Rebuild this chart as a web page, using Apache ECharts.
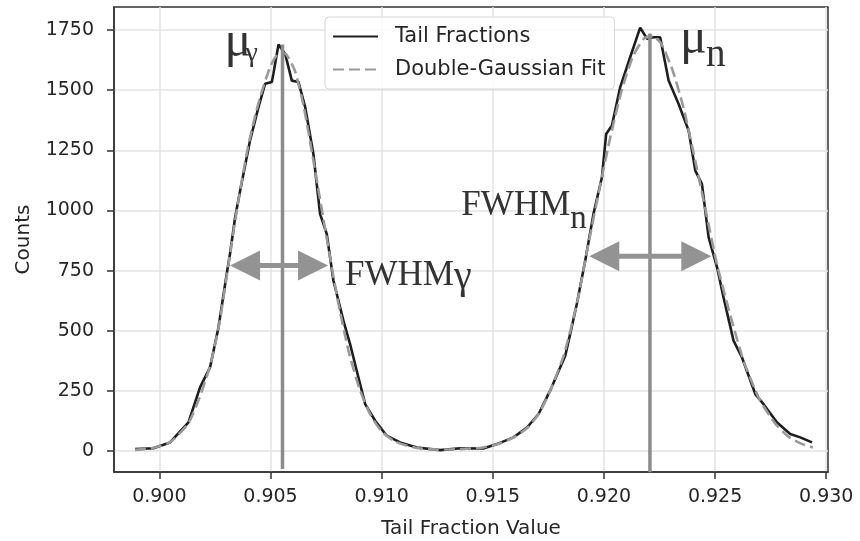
<!DOCTYPE html>
<html>
<head>
<meta charset="utf-8">
<script src="https://cdn.jsdelivr.net/npm/echarts@6/dist/echarts.min.js"></script>
<style>
  html, body { margin: 0; padding: 0; background: #fff; }
  #chart { width: 860px; height: 541px; }
</style>
</head>
<body>
<div id="chart"></div>
<script>
// Histogram of tail-fraction values (bin position, counts)
const tailX = [
  0.89891, 0.89973, 0.90048, 0.90131, 0.90183, 0.90228, 0.90266, 0.90303, 0.90318, 0.90341,
  0.90363, 0.90408, 0.90446, 0.90476, 0.90506, 0.90513, 0.90536, 0.90566, 0.90596, 0.90626,
  0.90656, 0.90693, 0.90723, 0.90753, 0.90783, 0.90828, 0.90858, 0.90888, 0.90926, 0.90971,
  0.91023, 0.91083, 0.91158, 0.91263, 0.91353, 0.91458, 0.91518, 0.91593, 0.91654, 0.91706,
  0.91758, 0.91826, 0.91848, 0.91878, 0.91916, 0.91953, 0.91991, 0.92010, 0.92036, 0.92073,
  0.92118, 0.92163, 0.92194, 0.92223, 0.92253, 0.92291, 0.92336, 0.92381, 0.92411, 0.92441,
  0.92471, 0.92509, 0.92538, 0.92583, 0.92621, 0.92681, 0.92718, 0.92779, 0.92838, 0.92883,
  0.92936
];
const tailCounts = [
  8, 12, 36, 119, 265, 348, 514, 736, 820, 972,
  1080, 1291, 1430, 1527, 1534, 1568, 1690, 1651, 1540, 1534,
  1430, 1235, 986, 903, 709, 542, 445, 334, 195, 126,
  64, 36, 15, 4, 12, 11, 29, 57, 98, 154,
  251, 396, 486, 611, 792, 986, 1138, 1318, 1353, 1512,
  1637, 1760, 1714, 1720, 1720, 1540, 1443, 1332, 1166, 1110,
  888, 764, 639, 459, 389, 237, 195, 119, 71, 57,
  36
];

// Double-Gaussian fit curve
const fitX = [
  0.8989, 0.8997, 0.9005, 0.9013, 0.9018, 0.9023, 0.9027, 0.9031, 0.9035, 0.9040,
  0.9045, 0.9050, 0.9054, 0.9057, 0.9061, 0.9065, 0.9070, 0.9075, 0.9080, 0.9085,
  0.9090, 0.9095, 0.9100, 0.9106, 0.9115, 0.9125, 0.9135, 0.9145, 0.9152, 0.9160,
  0.9166, 0.9171, 0.9176, 0.9182, 0.9188, 0.9193, 0.9198, 0.9203, 0.9208, 0.9213,
  0.9218, 0.9222, 0.9226, 0.9231, 0.9236, 0.9241, 0.9246, 0.9251, 0.9257, 0.9263,
  0.9270, 0.9277, 0.9283, 0.9289, 0.9294
];
const fitCounts = [
  5, 13, 38, 115, 220, 360, 530, 770, 1010, 1270,
  1460, 1600, 1655, 1650, 1580, 1430, 1170, 900, 640, 420,
  260, 150, 82, 40, 14, 6, 8, 14, 28, 60,
  100, 160, 255, 400, 620, 860, 1090, 1310, 1500, 1640,
  1715, 1725, 1690, 1580, 1420, 1210, 990, 770, 560, 370,
  215, 115, 60, 30, 15
];

// Peak means (vertical markers) and FWHM extents
const muValues = [0.90554, 0.92207];
const muLineBottom = [-75, -88];
const muLineTop = [1690, 1736];
const muSubscripts = ['γ', 'n'];
const fwhmStart = [0.90318, 0.91934];
const fwhmEnd = [0.90759, 0.92483];
const fwhmLevel = [771, 810];
const fwhmSubscripts = ['γ', 'n'];

// Axis ticks
const xTicks = [0.900, 0.905, 0.910, 0.915, 0.920, 0.925, 0.930];
const yTicks = [0, 250, 500, 750, 1000, 1250, 1500, 1750];

const serif = '"Liberation Serif", "Times New Roman", serif';
const sans = '"DejaVu Sans", sans-serif';
const annotGray = '#939393';
const labelInk = '#333';

const tailData = tailX.map((x, i) => [x, tailCounts[i]]);
const fitData = fitX.map((x, i) => [x, fitCounts[i]]);
const muData = muValues.map((m, i) => [m, muLineBottom[i], muLineTop[i]]);
const fwhmData = fwhmStart.map((s, i) => [s, fwhmEnd[i], fwhmLevel[i]]);

// label placement around each marker, in pixels relative to its anchor
const muLayout = [
  { muDx: -58, muDy: -2, subDx: -37, subDy: 9, subSize: 28 },
  { muDx: 30, muDy: 6, subDx: 56, subDy: 22, subSize: 39 }
];

const chart = echarts.init(document.getElementById('chart'), null, { renderer: 'canvas' });

chart.setOption({
  animation: false,
  backgroundColor: '#fff',
  grid: {
    left: 114, right: 32, top: 7, bottom: 69,
    outerBoundsMode: 'none',
    show: true, borderColor: '#333', borderWidth: 1.5, backgroundColor: '#fff'
  },
  legend: {
    data: ['Tail Fractions', 'Double-Gaussian Fit'],
    orient: 'vertical',
    left: 325, top: 17,
    padding: [9, 9, 9, 7],
    itemGap: 12,
    itemWidth: 45, itemHeight: 14,
    itemStyle: { opacity: 0 },
    backgroundColor: 'rgba(255,255,255,0.85)',
    borderColor: '#d6d6d6', borderWidth: 1, borderRadius: 4,
    textStyle: { fontFamily: sans, fontSize: 21, color: '#262626', padding: [0, 0, 0, 12] }
  },
  xAxis: {
    type: 'value',
    min: 0.89796, max: 0.93008,
    name: 'Tail Fraction Value',
    nameLocation: 'middle', nameGap: 47,
    nameTextStyle: { fontFamily: sans, fontSize: 20, color: '#262626' },
    axisLine: { show: true, onZero: false, lineStyle: { color: '#333', width: 1.5 } },
    axisTick: { show: true, length: 7, customValues: xTicks, lineStyle: { color: '#333', width: 1.5 } },
    axisLabel: {
      customValues: xTicks, margin: 16,
      fontFamily: sans, fontSize: 19, color: '#262626',
      formatter: v => v.toFixed(3)
    },
    splitLine: { show: true, lineStyle: { color: '#e3e3e3', width: 1.5 } }
  },
  yAxis: {
    type: 'value',
    min: -87, max: 1846,
    name: 'Counts',
    nameLocation: 'middle', nameGap: 80, nameRotate: 90,
    nameTextStyle: { fontFamily: sans, fontSize: 20, color: '#262626' },
    axisLine: { show: true, onZero: false, lineStyle: { color: '#333', width: 1.5 } },
    axisTick: { show: true, length: 7, customValues: yTicks, lineStyle: { color: '#333', width: 1.5 } },
    axisLabel: {
      customValues: yTicks, margin: 20,
      fontFamily: sans, fontSize: 19, color: '#262626',
      formatter: v => String(Math.round(v))
    },
    splitLine: { show: true, lineStyle: { color: '#e3e3e3', width: 1.5 } }
  },
  series: [
    {
      name: 'Tail Fractions',
      type: 'line',
      data: tailData,
      symbol: 'none',
      lineStyle: { color: '#1e1e1e', width: 2.6 },
      itemStyle: { color: '#1e1e1e' },
      z: 3
    },
    {
      name: 'Double-Gaussian Fit',
      type: 'line',
      data: fitData,
      symbol: 'none',
      smooth: 0.2,
      lineStyle: { color: '#9a9a9a', width: 2.6, type: [11, 5] },
      itemStyle: { color: '#9a9a9a' },
      z: 4
    },
    {
      // vertical markers at the two peak means, with μ labels
      type: 'custom',
      data: muData,
      encode: { x: 0, y: [1, 2] },
      z: 5,
      silent: true,
      renderItem(params, api) {
        const i = params.dataIndex;
        const top = api.coord([api.value(0), api.value(2)]);
        const bot = api.coord([api.value(0), api.value(1)]);
        const L = muLayout[i];
        return {
          type: 'group',
          children: [
            { type: 'line', shape: { x1: top[0], y1: top[1], x2: bot[0], y2: bot[1] },
              style: { stroke: '#8c8c8c', lineWidth: 3.5 } },
            { type: 'text', x: top[0] + L.muDx, y: top[1] + L.muDy,
              style: { text: 'μ', font: '50px ' + serif, fill: labelInk, align: 'left', verticalAlign: 'middle' } },
            { type: 'text', x: top[0] + L.subDx, y: top[1] + L.subDy,
              style: { text: muSubscripts[i], font: L.subSize + 'px ' + serif, fill: labelInk, align: 'left', verticalAlign: 'middle' } }
          ]
        };
      }
    },
    {
      // double-headed FWHM arrows with labels
      type: 'custom',
      data: fwhmData,
      encode: { x: [0, 1], y: 2 },
      z: 6,
      silent: true,
      renderItem(params, api) {
        const i = params.dataIndex;
        const a = api.coord([api.value(0), api.value(2)]);
        const b = api.coord([api.value(1), api.value(2)]);
        const len = 30, half = 15;
        const children = [
          { type: 'line', shape: { x1: a[0] + len - 2, y1: a[1], x2: b[0] - len + 2, y2: b[1] },
            style: { stroke: annotGray, lineWidth: 5 } },
          { type: 'polygon', shape: { points: [[a[0], a[1]], [a[0] + len, a[1] - half], [a[0] + len, a[1] + half]] },
            style: { fill: annotGray } },
          { type: 'polygon', shape: { points: [[b[0], b[1]], [b[0] - len, b[1] - half], [b[0] - len, b[1] + half]] },
            style: { fill: annotGray } }
        ];
        if (i === 0) {
          children.push(
            { type: 'text', x: b[0] + 17, y: b[1] + 10,
              style: { text: 'FWHM', font: '35px ' + serif, fill: labelInk, align: 'left', verticalAlign: 'middle' } },
            { type: 'text', x: b[0] + 126, y: b[1] + 12,
              style: { text: fwhmSubscripts[i], font: '40px ' + serif, fill: labelInk, align: 'left', verticalAlign: 'middle' } }
          );
        } else {
          children.push(
            { type: 'text', x: a[0] - 19, y: a[1] - 50,
              style: { text: 'FWHM', font: '35px ' + serif, fill: labelInk, align: 'right', verticalAlign: 'middle' } },
            { type: 'text', x: a[0] - 19, y: a[1] - 37,
              style: { text: fwhmSubscripts[i], font: '33px ' + serif, fill: labelInk, align: 'left', verticalAlign: 'middle' } }
          );
        }
        return { type: 'group', children };
      }
    }
  ]
});
</script>
</body>
</html>
